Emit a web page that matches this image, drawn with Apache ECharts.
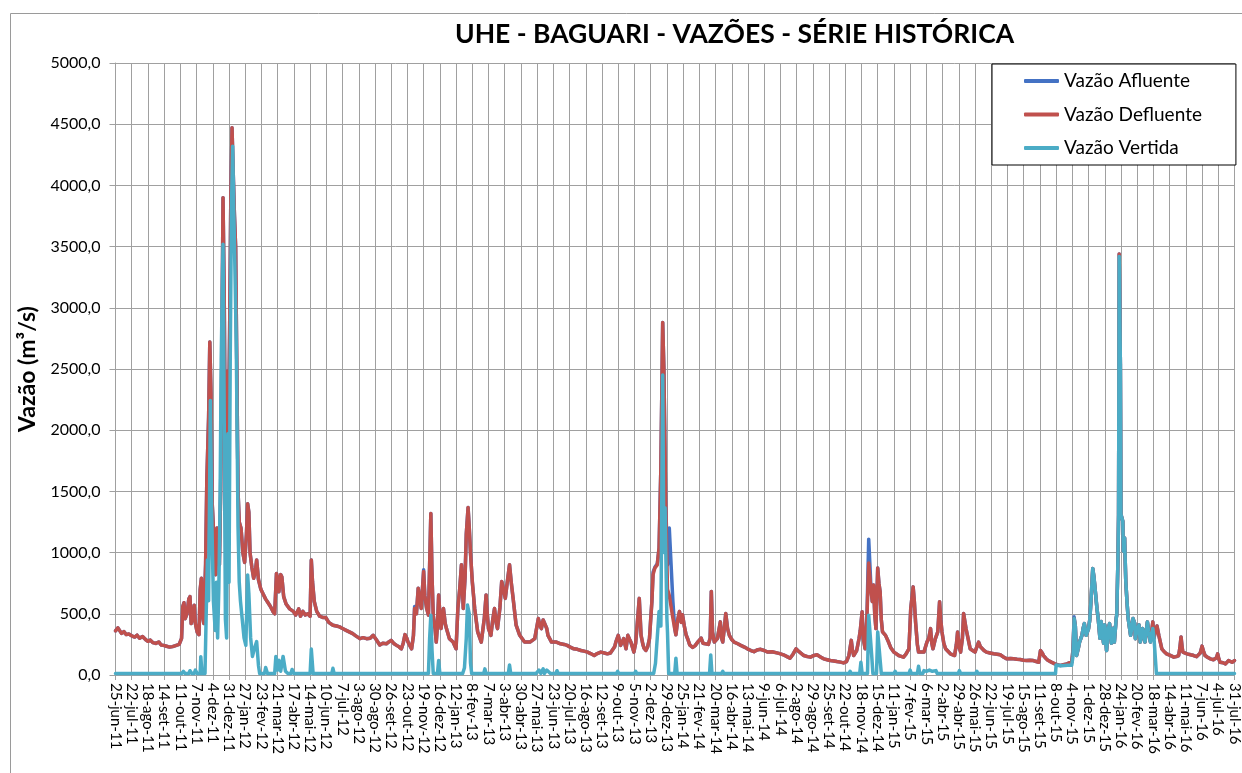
<!DOCTYPE html>
<html><head><meta charset="utf-8">
<script src="https://cdn.jsdelivr.net/npm/echarts/dist/echarts.min.js"></script>
<style>html,body{margin:0;padding:0;background:#fff}#c{width:1242px;height:773px}</style>
</head><body><div id="c"></div>
<script>
// Rótulos do eixo X (a cada 27 dias a partir de 25-jun-11)
const rotulosX = ['25-jun-11','22-jul-11','18-ago-11','14-set-11','11-out-11','7-nov-11','4-dez-11','31-dez-11','27-jan-12','23-fev-12','21-mar-12','17-abr-12','14-mai-12','10-jun-12','7-jul-12','3-ago-12','30-ago-12','26-set-12','23-out-12','19-nov-12','16-dez-12','12-jan-13','8-fev-13','7-mar-13','3-abr-13','30-abr-13','27-mai-13','23-jun-13','20-jul-13','16-ago-13','12-set-13','9-out-13','5-nov-13','2-dez-13','29-dez-13','25-jan-14','21-fev-14','20-mar-14','16-abr-14','13-mai-14','9-jun-14','6-jul-14','2-ago-14','29-ago-14','25-set-14','22-out-14','18-nov-14','15-dez-14','11-jan-15','7-fev-15','6-mar-15','2-abr-15','29-abr-15','26-mai-15','22-jun-15','19-jul-15','15-ago-15','11-set-15','8-out-15','4-nov-15','1-dez-15','28-dez-15','24-jan-16','20-fev-16','18-mar-16','14-abr-16','11-mai-16','7-jun-16','4-jul-16','31-jul-16'];
const diasPorRotulo = 27;
const rotulosY = ['0,0','500,0','1000,0','1500,0','2000,0','2500,0','3000,0','3500,0','4000,0','4500,0','5000,0'];

// dias desde 25-jun-11
const dias = [
0,4,7,10,14,18,22,27,32,36,
40,45,50,54,58,62,67,72,76,80,
85,90,95,100,106,110,112,114,116,119,
122,124,126,129,131,133,136,139,141,143,
145,147,150,152,155,157,159,161,163,165,
167,169,171,173,175,177,179,181,183,186,
188,190,192,194,196,198,200,202,204,206,
209,212,215,218,220,222,224,227,230,233,
235,238,242,246,250,254,258,262,265,268,
270,272,275,277,280,284,290,296,300,305,
308,312,316,320,324,326,328,331,335,340,
345,350,355,362,368,373,378,384,390,395,
400,407,412,418,424,429,434,440,445,451,
455,459,464,468,472,476,479,482,485,487,
490,493,496,498,501,504,507,509,511,513,
515,518,521,523,525,527,529,532,534,536,
538,540,542,546,549,551,556,562,567,570,
573,576,579,582,584,587,589,591,594,598,
603,609,614,617,619,621,625,628,631,634,
636,640,643,646,649,652,656,659,662,667,
673,681,690,698,704,707,709,712,715,718,
720,726,734,741,747,752,758,763,769,775,
780,786,791,797,802,808,814,819,824,827,
831,833,837,841,846,850,853,856,858,863,
866,868,872,875,878,880,883,886,889,891,
893,895,898,902,905,908,911,913,916,919,
922,925,928,931,933,936,939,942,944,947,
950,953,956,961,965,970,975,978,981,987,
990,992,994,997,1002,1005,1007,1009,1011,1014,
1016,1019,1022,1026,1030,1036,1041,1047,1052,1058,
1063,1068,1074,1080,1086,1093,1101,1106,1112,1118,
1123,1128,1133,1138,1146,1152,1157,1163,1168,1173,
1179,1185,1190,1196,1201,1207,1212,1217,1221,1223,
1225,1227,1229,1234,1238,1240,1243,1245,1246,1248,
1251,1254,1256,1258,1260,1262,1264,1266,1269,1271,
1273,1275,1277,1282,1287,1291,1296,1304,1312,1316,
1321,1324,1328,1330,1332,1335,1337,1346,1351,1354,
1357,1359,1361,1365,1369,1372,1374,1376,1379,1382,
1390,1397,1400,1402,1405,1407,1410,1412,1414,1416,
1418,1421,1423,1427,1431,1434,1437,1440,1442,1446,
1450,1456,1462,1468,1473,1479,1484,1490,1495,1501,
1506,1512,1517,1522,1528,1533,1537,1540,1543,1545,
1549,1553,1558,1564,1568,1573,1578,1584,1588,1592,
1594,1596,1598,1600,1603,1605,1609,1611,1613,1616,
1618,1620,1622,1624,1627,1629,1631,1634,1636,1639,
1641,1645,1647,1650,1653,1655,1658,1661,1663,1666,
1667,1669,1670,1671,1673,1674,1675,1677,1678,1680,
1682,1684,1686,1690,1692,1694,1697,1698,1700,1702,
1704,1706,1709,1710,1714,1718,1720,1723,1727,1729,
1731,1734,1737,1742,1746,1750,1756,1762,1766,1770,
1772,1774,1776,1777,1784,1790,1795,1800,1803,1806,
1809,1811,1814,1818,1823,1828,1831,1833,1835,1837,
1839,1844,1848,1851,1853,1856,1859,1863
];

const defluente = [
360,385,375,340,355,330,335,320,310,325,
300,315,290,275,285,265,258,270,245,242,
235,228,232,240,250,300,560,590,460,500,
620,640,420,480,570,420,350,330,700,790,
480,420,900,1580,2100,2720,2300,1400,1200,850,
820,1200,1050,900,1500,2600,3900,3100,1650,2480,
1900,2800,3900,4470,4100,3760,3500,2500,1500,1250,
1200,1000,920,1150,1400,1330,1000,880,790,850,
940,780,700,660,620,590,560,520,500,830,
780,680,820,800,640,580,540,520,490,540,
480,520,490,500,480,940,760,600,520,480,
470,470,430,407,400,393,380,365,350,338,
320,297,305,297,300,324,290,245,260,255,
270,283,255,242,230,214,260,330,300,269,
240,214,320,544,500,709,600,544,700,846,
650,544,489,900,1320,800,489,380,269,400,
654,500,379,544,420,379,297,269,214,544,
700,901,544,800,1148,1368,1200,1000,764,544,
352,269,461,654,500,379,324,450,544,420,
379,550,764,700,626,750,901,750,626,407,
324,269,269,297,461,400,379,450,434,380,
324,269,269,255,250,242,225,214,210,200,
195,187,175,159,175,187,180,173,180,187,
230,269,324,242,297,214,324,290,269,187,
260,379,626,324,250,219,200,230,297,450,
600,820,874,900,1038,1700,2880,2500,1420,700,
650,656,464,380,328,450,519,430,492,400,
328,290,246,225,240,273,301,260,246,250,
300,683,350,269,297,380,434,300,269,400,
503,380,324,290,269,255,242,228,214,200,
190,205,210,200,187,190,181,175,165,150,
137,170,214,190,159,150,146,160,165,150,
132,125,118,115,110,105,99,110,159,220,
283,200,159,200,300,365,516,300,269,214,
461,915,800,681,600,736,500,379,874,750,
681,450,352,324,269,220,187,159,146,170,
214,544,720,600,434,250,187,187,269,300,
379,260,214,297,352,599,450,352,260,214,
173,159,250,352,220,187,300,503,516,380,
379,260,214,200,187,230,269,230,214,200,
187,180,173,170,165,145,132,135,132,128,
126,120,118,120,118,110,104,200,180,159,
135,118,105,91,85,77,85,91,100,104,
200,461,400,159,220,269,324,380,420,324,
340,379,450,600,870,800,700,544,464,300,
437,260,410,200,382,420,260,382,269,461,
492,956,1311,3440,2541,1311,1313,1257,1011,1120,
765,600,461,324,382,461,420,297,355,379,
410,269,328,379,269,434,355,269,434,300,
352,400,324,214,190,173,160,146,150,159,
220,310,220,187,173,165,159,150,146,180,
236,200,159,145,132,125,118,140,173,130,
104,100,91,105,118,110,104,118
];

const afluente = [
360,385,375,340,355,330,335,320,310,325,
300,315,290,275,285,265,258,270,245,242,
235,228,232,240,250,300,560,590,460,500,
620,640,420,480,570,420,350,330,700,790,
480,420,900,1580,2100,2720,2300,1400,1200,850,
820,1200,1050,900,1500,2600,3900,3100,1650,2480,
1900,2800,3900,4470,4100,3760,3500,2500,1500,1250,
1200,1000,920,1150,1400,1330,1000,880,790,850,
940,780,700,660,620,590,560,520,500,830,
780,680,820,800,640,580,540,520,490,540,
480,520,490,500,480,940,760,600,520,480,
470,470,430,407,400,393,380,365,350,338,
320,297,305,297,300,324,290,245,260,255,
270,283,255,242,230,214,260,330,300,269,
240,214,320,560,500,709,600,544,700,860,
650,544,489,900,1320,800,489,380,269,400,
654,500,379,544,420,379,297,269,214,544,
700,901,544,800,1148,1368,1200,1000,764,544,
352,269,461,654,500,379,324,450,544,420,
379,550,764,700,626,750,901,750,626,407,
324,269,269,297,461,400,379,450,434,380,
324,269,269,255,250,242,225,214,210,200,
195,187,175,159,175,187,180,173,180,187,
230,269,324,242,297,214,324,290,269,187,
260,379,626,324,250,219,200,230,297,450,
600,840,880,910,1038,1700,2880,2500,1420,900,
1200,1200,600,380,328,450,519,430,492,400,
328,290,246,225,240,273,301,260,246,250,
300,683,350,269,297,380,434,300,269,400,
503,380,324,290,269,255,242,228,214,200,
190,205,210,200,187,190,181,175,165,150,
137,170,214,190,159,150,146,160,165,150,
132,125,118,115,110,105,99,110,159,220,
283,200,159,200,300,365,516,300,269,214,
461,1110,900,681,600,736,500,379,874,750,
681,450,352,324,269,220,187,159,146,170,
214,544,720,600,434,250,187,187,269,300,
379,260,214,297,352,599,450,352,260,214,
173,159,250,352,220,187,300,503,516,380,
379,260,214,200,187,230,269,230,214,200,
187,180,173,170,165,145,132,135,132,128,
126,120,118,120,118,110,104,200,180,159,
135,118,105,91,85,77,85,91,100,104,
200,475,400,159,220,269,324,380,420,324,
340,379,450,600,870,800,700,544,464,300,
437,260,410,200,382,420,260,382,269,461,
492,956,1311,3440,2541,1311,1313,1257,1011,1120,
765,600,461,324,382,461,420,297,355,379,
410,269,328,379,269,434,355,269,434,300,
352,400,324,214,190,173,160,146,150,159,
220,310,220,187,173,165,159,150,146,180,
236,200,159,145,132,125,118,140,173,130,
104,100,91,105,118,110,104,118
];

// [dia, vazão vertida]
const vertida = [
[0,12],[110,12],[113,30],[116,12],[122,12],[124,35],[127,12],[131,12],[133,40],[136,12],[141,12],[142,150],[144,12],[149,12],
[151,500],[153,939],[155,606],[158,2242],[160,1364],[163,606],[166,364],[168,758],[170,303],[172,700],[174,1364],
[176,2576],[179,3520],[180,2879],[183,455],[185,303],[187,1970],[189,758],[191,2576],[193,3788],[195,4320],
[197,3788],[199,3272],[201,2727],[204,1212],[206,758],[208,606],[211,455],[214,303],[217,242],[220,818],[222,667],
[225,303],[228,152],[231,212],[235,273],[238,80],[240,12],[248,12],[250,61],[253,12],[265,12],[267,152],[270,40],
[272,120],[275,30],[279,152],[283,30],[287,12],[292,12],[294,45],[297,12],[324,12],[326,212],[329,12],
[360,12],[362,55],[364,12],[521,12],[523,300],[525,489],[527,200],[529,12],[536,12],[538,118],[540,12],
[578,12],[581,60],[584,300],[586,571],[589,500],[591,100],[593,12],[613,12],[615,50],[617,12],[654,12],[656,82],[658,12],
[700,12],[705,40],[708,12],[712,50],[714,12],[718,40],[721,50],[724,12],[733,12],[735,35],[737,12],[755,12],[757,25],[759,12],
[834,12],[836,30],[838,12],[864,12],[866,30],[868,12],[896,12],[899,96],[902,80],[905,519],[908,400],[911,2450],[913,1000],
[915,1366],[918,464],[919,350],[921,12],[931,12],[933,137],[935,12],[989,12],[991,164],[993,12],[1009,12],[1011,30],[1013,12],
[1221,12],[1223,30],[1225,12],[1239,12],[1241,104],[1243,12],[1252,12],[1254,489],[1256,480],[1259,159],[1261,12],
[1267,12],[1269,352],[1272,352],[1275,12],[1296,12],[1298,30],[1300,12],[1321,12],[1323,40],[1325,12],
[1335,12],[1337,71],[1339,12],[1344,12],[1346,36],[1350,30],[1355,40],[1360,30],[1366,36],[1368,12],
[1403,12],[1405,36],[1407,12],[1432,12],[1434,30],[1436,12],[1565,12],[1566,82],[1575,75],[1585,80],[1592,80],
[1594,150],[1596,461],[1598,400],[1600,159],[1603,220],[1605,269],[1609,324],[1611,380],[1613,420],[1616,324],
[1618,340],[1620,379],[1622,450],[1624,600],[1627,870],[1629,800],[1631,700],[1634,544],[1636,464],[1639,300],
[1641,437],[1645,260],[1647,410],[1650,200],[1653,382],[1655,420],[1658,260],[1661,382],[1663,269],[1666,461],
[1667,492],[1669,956],[1670,1311],[1671,3420],[1673,2541],[1674,1311],[1675,1313],[1677,1257],[1678,1011],[1680,1120],
[1682,765],[1684,600],[1686,461],[1690,324],[1692,382],[1694,461],[1697,420],[1698,297],[1700,355],[1702,379],
[1704,410],[1706,269],[1709,328],[1710,379],[1714,269],[1718,434],[1720,355],[1723,269],[1727,380],[1729,300],
[1731,300],[1733,12],[1863,12]
];

const FONT = 'Lato, "Open Sans", sans-serif';
const chart = echarts.init(document.getElementById('c'), null, {renderer:'canvas'});
const gridColor = '#a0a0a0';
const option = {
  animation: false,
  backgroundColor: '#fff',
  graphic: [{
    type: 'rect', left: 8, top: 11, silent: true, z: -10,
    shape: {width: 1300, height: 800},
    style: {fill: 'none', stroke: '#9a9a9a', lineWidth: 1}
  }],
  title: {
    text: 'UHE - BAGUARI - VAZÕES - SÉRIE HISTÓRICA',
    left: 450, top: 16,
    textStyle: {fontFamily: FONT, fontWeight: 'bold', fontSize: 26.5, color: '#000'}
  },
  legend: {
    orient: 'vertical', left: 992, top: 64,
    padding: [6, 34, 6, 32], itemGap: 11.5,
    borderColor: '#000', borderWidth: 1, backgroundColor: '#fff',
    icon: 'roundRect', itemWidth: 35, itemHeight: 4,
    textStyle: {fontFamily: FONT, fontSize: 19, color: '#000', lineHeight: 22},
    data: ['Vazão Afluente', 'Vazão Defluente', 'Vazão Vertida']
  },
  grid: {left: 115.5, right: 7, top: 63, bottom: 98, containLabel: false},
  xAxis: {
    type: 'value', min: 0, max: diasPorRotulo * (rotulosX.length - 1), interval: diasPorRotulo,
    axisLine: {show: true, lineStyle: {color: gridColor}},
    axisTick: {show: true, length: 5, lineStyle: {color: gridColor}},
    splitLine: {show: true, lineStyle: {color: gridColor, width: 1}},
    axisLabel: {rotate: -90, margin: 8, fontFamily: FONT, fontSize: 15, color: '#000',
      showMinLabel: true, showMaxLabel: true,
      formatter: v => rotulosX[Math.round(v / diasPorRotulo)] || ''}
  },
  yAxis: {
    type: 'value', min: 0, max: 5000, interval: 500,
    name: 'Vazão (m³/s)', nameLocation: 'middle', nameGap: 75, nameRotate: 90,
    nameTextStyle: {fontFamily: FONT, fontWeight: 'bold', fontSize: 23, color: '#000'},
    axisLine: {show: true, lineStyle: {color: gridColor}},
    axisTick: {show: true, length: 6, lineStyle: {color: gridColor}},
    splitLine: {show: true, lineStyle: {color: gridColor, width: 1}},
    axisLabel: {margin: 15, fontFamily: FONT, fontSize: 16, color: '#000',
      formatter: v => rotulosY[Math.round(v / 500)]}
  },
  series: [
    {name: 'Vazão Afluente', type: 'line', showSymbol: false, symbol: 'none', color: '#4472C4',
     lineStyle: {width: 3.5, join: 'round', cap: 'round'}, data: dias.map((d, i) => [d, afluente[i]]), z: 2},
    {name: 'Vazão Defluente', type: 'line', showSymbol: false, symbol: 'none', color: '#C0504D',
     lineStyle: {width: 3.5, join: 'round', cap: 'round'}, data: dias.map((d, i) => [d, defluente[i]]), z: 3},
    {name: 'Vazão Vertida', type: 'line', showSymbol: false, symbol: 'none', color: '#4BACC6',
     lineStyle: {width: 3.5, join: 'round', cap: 'round'}, data: vertida, z: 4}
  ]
};
chart.setOption(option);
</script></body></html>
